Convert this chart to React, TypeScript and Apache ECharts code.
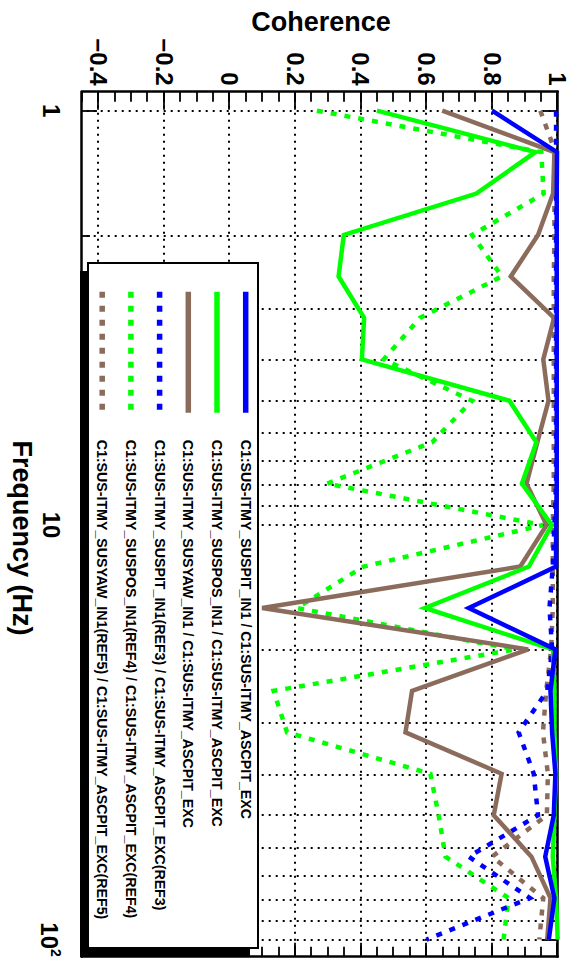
import React, { useEffect, useRef } from 'react';
import * as echarts from 'echarts';

// Frequency points (Hz)
const frequencies = [1, 1.259, 1.585, 1.995, 2.512, 3.162, 3.981, 5.012, 6.31, 7.943, 10, 12.59, 15.85, 19.95, 25.12, 31.62, 39.81, 50.12, 63.1, 79.43, 100];

const seriesNames = [
  'C1:SUS-ITMY_SUSPIT_IN1 / C1:SUS-ITMY_ASCPIT_EXC',
  'C1:SUS-ITMY_SUSPOS_IN1 / C1:SUS-ITMY_ASCPIT_EXC',
  'C1:SUS-ITMY_SUSYAW_IN1 / C1:SUS-ITMY_ASCPIT_EXC',
  'C1:SUS-ITMY_SUSPIT_IN1(REF3) / C1:SUS-ITMY_ASCPIT_EXC(REF3)',
  'C1:SUS-ITMY_SUSPOS_IN1(REF4) / C1:SUS-ITMY_ASCPIT_EXC(REF4)',
  'C1:SUS-ITMY_SUSYAW_IN1(REF5) / C1:SUS-ITMY_ASCPIT_EXC(REF5)',
];

const pitIn1 = [0.80, 0.998, 0.997, 0.997, 0.997, 0.997, 0.997, 0.997, 0.997, 0.997, 0.995, 0.995, 0.729, 0.993, 0.978, 0.983, 0.993, 0.988, 0.962, 0.99, 0.973];
const posIn1 = [0.449, 0.932, 0.752, 0.348, 0.332, 0.41, 0.403, 0.853, 0.935, 0.891, 0.982, 0.912, 0.595, 0.986, 0.99, 0.99, 0.995, 0.99, 0.985, 0.995, 1.0];
const yawIn1 = [0.648, 0.99, 0.986, 0.94, 0.857, 0.989, 0.956, 0.972, 0.938, 0.905, 0.966, 0.886, 0.099, 0.91, 0.556, 0.536, 0.829, 0.805, 0.92, 0.978, 0.968];
const pitRef3 = [0.995, 0.995, 0.995, 0.995, 0.995, 0.995, 0.995, 0.995, 0.995, 0.995, 0.99, 0.985, 0.975, 0.983, 0.968, 0.881, 0.927, 0.94, 0.729, 0.915, 0.6];
const posRef4 = [0.266, 0.95, 0.957, 0.739, 0.83, 0.58, 0.47, 0.739, 0.617, 0.297, 0.955, 0.408, 0.205, 0.87, 0.134, 0.175, 0.612, 0.637, 0.658, 0.85, 0.835];
const yawRef5 = [0.947, 0.993, 0.99, 0.99, 0.988, 0.988, 0.988, 0.988, 0.988, 0.988, 0.985, 0.985, 0.985, 0.98, 0.965, 0.955, 0.97, 0.967, 0.8, 0.956, 0.944];

const seriesValues = [pitIn1, posIn1, yawIn1, pitRef3, posRef4, yawRef5];
const seriesColors = ['#0000ff', '#00ff00', '#8b6c5c', '#0000ff', '#00ff00', '#8b6c5c'];
const seriesDashed = [false, false, false, true, true, true];

const coherenceTicks = [-0.4, -0.2, 0, 0.2, 0.4, 0.6, 0.8, 1];
const freqMajorTicks = [1, 10, 100];
const freqMinorTicks = [2, 3, 4, 5, 6, 7, 8, 9, 20, 30, 40, 50, 60, 70, 80, 90];
const freqTickLabels = ['1', '10', '{b|10}{s|2}'];

const FONT = '"Liberation Sans", Arial, Helvetica, sans-serif';
const BLACK = '#000';
const dottedGrid = { color: BLACK, width: 2, type: [2, 5] as number[] };
const frameLine = { color: BLACK, width: 2.5 };

function freqAxis(position: 'bottom' | 'top', major: boolean) {
  return {
    type: 'log',
    logBase: 10,
    min: 0.9,
    max: 110,
    position,
    axisLine: { show: major, onZero: false, lineStyle: frameLine },
    axisTick: {
      show: true,
      inside: true,
      length: major ? 15 : 8,
      customValues: major ? freqMajorTicks : freqMinorTicks,
      lineStyle: { color: BLACK, width: 1.8 },
    },
    axisLabel: position === 'bottom' && major
      ? {
          show: true,
          customValues: freqMajorTicks,
          margin: 19,
          color: BLACK,
          fontSize: 24,
          fontWeight: 'bold',
          fontFamily: FONT,
          formatter: (v: number) => freqTickLabels[Math.round(Math.log10(v))],
          rich: {
            b: { fontSize: 24, fontWeight: 'bold', fontFamily: FONT, color: BLACK },
            s: { fontSize: 14, fontWeight: 'bold', fontFamily: FONT, color: BLACK, padding: [0, 0, 14, 0] },
          },
        }
      : { show: false },
    splitLine: { show: position === 'bottom', lineStyle: dottedGrid },
    minorTick: { show: false },
    minorSplitLine: { show: false },
  };
}

function cohAxis(position: 'left' | 'right', major: boolean) {
  const ax: any = {
    type: 'value',
    min: -0.45,
    max: 1,
    position,
    axisLine: { show: major, onZero: false, lineStyle: frameLine },
    axisTick: {
      show: true,
      inside: true,
      length: major ? (position === 'left' ? 18 : 14) : 10,
      lineStyle: { color: BLACK, width: 1.8 },
    },
    axisLabel: position === 'left' && major
      ? {
          show: true,
          customValues: coherenceTicks,
          margin: 6,
          color: BLACK,
          fontSize: 24,
          fontWeight: 'bold',
          fontFamily: FONT,
          formatter: (v: number) => {
            const r = Math.round(v * 10) / 10;
            return r < 0 ? '\u2212' + Math.abs(r) : String(r);
          },
        }
      : { show: false },
    splitLine: { show: position === 'left' && major, lineStyle: dottedGrid },
  };
  if (major) {
    ax.axisTick.customValues = coherenceTicks;
  } else {
    ax.interval = 0.05;
  }
  return ax;
}

export default function App() {
  const ref = useRef<HTMLDivElement>(null);

  useEffect(() => {
    if (!ref.current) return;
    const chart = echarts.init(ref.current, undefined, { renderer: 'svg' });

    const order = [5, 4, 3, 2, 1, 0];
    const series = order.map((i) => ({
      name: seriesNames[i],
      type: 'line',
      xAxisIndex: 0,
      yAxisIndex: 0,
      showSymbol: false,
      symbol: 'none',
      data: frequencies.map((f, k) => [f, seriesValues[i][k]]),
      itemStyle: { color: seriesColors[i] },
      lineStyle: {
        color: seriesColors[i],
        width: 4.5,
        type: seriesDashed[i] ? [6, 8] : 'solid',
        cap: 'butt',
        join: 'miter',
      },
      z: 2,
    }));

    chart.setOption({
      animation: false,
      backgroundColor: '#fff',
      grid: { left: 91.7, right: 5.3, top: 15.3, bottom: 82 },
      xAxis: [freqAxis('bottom', true), freqAxis('bottom', false), freqAxis('top', true), freqAxis('top', false)],
      yAxis: [cohAxis('left', true), cohAxis('left', false), cohAxis('right', true), cohAxis('right', false)],
      legend: {
        data: seriesNames,
        orient: 'vertical',
        left: 289,
        top: 319.3,
        padding: 0,
        itemWidth: 121,
        itemHeight: 16,
        itemGap: 12.7,
        selectedMode: false,
        z: 5,
        itemStyle: { opacity: 0 },
        lineStyle: { width: 5.5, cap: 'butt' },
        textStyle: {
          color: BLACK,
          fontSize: 14.2,
          lineHeight: 16,
          fontWeight: 'bold',
          fontFamily: FONT,
          padding: [0, 0, 0, 22],
        },
      },
      graphic: [
        { type: 'rect', z: 3, shape: { x: 271, y: 323, width: 686, height: 170 }, style: { fill: BLACK } },
        { type: 'rect', z: 3, shape: { x: 263, y: 315, width: 685, height: 170 }, style: { fill: '#fff', stroke: BLACK, lineWidth: 2 } },
        {
          type: 'text', z: 3, x: 22, y: 252, rotation: Math.PI / 2,
          style: { text: 'Coherence', align: 'center', verticalAlign: 'middle', fill: BLACK, font: `bold 27px ${FONT}` },
        },
        {
          type: 'text', z: 3, x: 538, y: 551,
          style: { text: 'Frequency (Hz)', align: 'center', verticalAlign: 'middle', fill: BLACK, font: `bold 27px ${FONT}` },
        },
      ],
      series,
    });

    return () => chart.dispose();
  }, []);

  return (
    <div style={{ position: 'fixed', left: 0, top: 0, width: 573, height: 962, overflow: 'hidden', background: '#fff' }}>
      <div
        ref={ref}
        style={{
          position: 'absolute',
          left: 0,
          top: 0,
          width: 962,
          height: 573,
          transformOrigin: '0 0',
          transform: 'translateX(573px) rotate(90deg)',
        }}
      />
    </div>
  );
}
